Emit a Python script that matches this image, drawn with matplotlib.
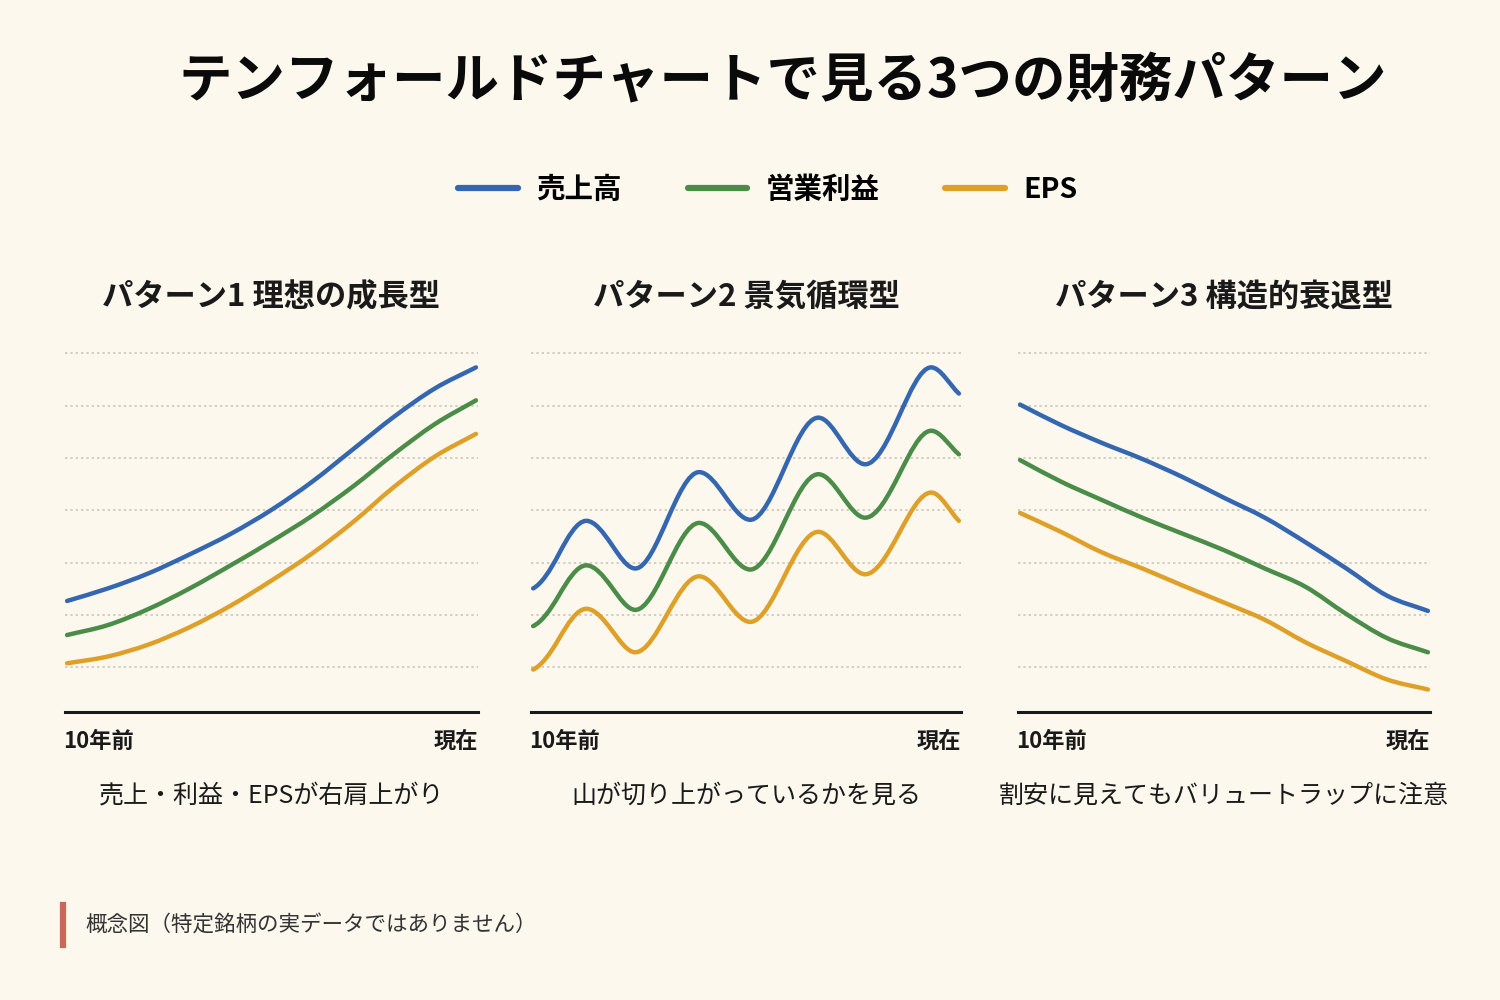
import matplotlib
matplotlib.use("Agg")
import matplotlib.pyplot as plt
from matplotlib.path import Path
from matplotlib.patches import PathPatch
from matplotlib.lines import Line2D

plt.rcParams['font.family'] = ['Noto Sans CJK JP', 'DejaVu Sans']

BG = '#FCF8EE'
BLUE = '#3567B1'
GREEN = '#4A8C48'
ORANGE = '#DEA028'

series_names = ['売上高', '営業利益', 'EPS']
panel_titles = ['パターン1 理想の成長型', 'パターン2 景気循環型', 'パターン3 構造的衰退型']
panel_notes = ['売上・利益・EPSが右肩上がり', '山が切り上がっているかを見る',
               '割安に見えてもバリュートラップに注意']
x_start_label = '10年前'
x_end_label = '現在'

# pattern 1 : steady growth (years 0..10)
p1_x = [0, 1, 2, 3, 4, 5, 6, 7, 8, 9, 10]
p1_sales = [2.27, 2.51, 2.80, 3.16, 3.55, 4.01, 4.55, 5.17, 5.79, 6.33, 6.73]
p1_profit = [1.62, 1.81, 2.12, 2.51, 2.95, 3.41, 3.90, 4.46, 5.08, 5.65, 6.10]
p1_eps = [1.08, 1.21, 1.44, 1.77, 2.18, 2.66, 3.18, 3.78, 4.45, 5.03, 5.46]

# pattern 2 : cyclical, rising peaks
p2_x = [0, 0.6, 1.25, 1.85, 2.4, 3.15, 3.9, 4.5, 5.1, 5.9, 6.7, 7.25, 7.8, 8.6, 9.35, 10]
p2_sales = [2.51, 3.16, 3.80, 3.34, 2.89, 3.82, 4.73, 4.28, 3.82, 4.80, 5.77, 5.32, 4.88, 5.81, 6.73, 6.23]
p2_profit = [1.79, 2.37, 2.95, 2.53, 2.10, 2.93, 3.76, 3.32, 2.87, 3.78, 4.69, 4.28, 3.86, 4.69, 5.52, 5.07]
p2_eps = [0.96, 1.54, 2.12, 1.71, 1.29, 2.02, 2.74, 2.31, 1.87, 2.74, 3.59, 3.18, 2.78, 3.57, 4.34, 3.80]

# pattern 3 : structural decline
p3_x = [0, 1, 2, 3, 4, 5, 6, 7, 8, 9, 10]
p3_sales = [6.02, 5.63, 5.29, 4.98, 4.63, 4.24, 3.86, 3.39, 2.89, 2.37, 2.08]
p3_profit = [4.96, 4.55, 4.20, 3.86, 3.55, 3.24, 2.89, 2.54, 2.02, 1.56, 1.29]
p3_eps = [3.95, 3.59, 3.20, 2.89, 2.56, 2.24, 1.91, 1.48, 1.12, 0.77, 0.58]

grid_levels = [1, 2, 3, 4, 5, 6, 7]


def slopes(xs, ys, wave):
    n = len(xs)
    m = []
    for i in range(n):
        if i == 0:
            s = (ys[1] - ys[0]) / (xs[1] - xs[0])
            m.append(s * 0.4 if wave else s)
        elif i == n - 1:
            m.append((ys[-1] - ys[-2]) / (xs[-1] - xs[-2]))
        else:
            d1 = ys[i] - ys[i - 1]
            d2 = ys[i + 1] - ys[i]
            if d1 * d2 <= 0:
                m.append(0.0)  # peak / trough -> flat
            else:
                s = (ys[i + 1] - ys[i - 1]) / (xs[i + 1] - xs[i - 1])
                m.append(s * 1.5 if wave else s)
    return m


def smooth_path(xs, ys, wave=False):
    # cubic hermite through the points, drawn as bezier segments
    m = slopes(xs, ys, wave)
    verts = [(xs[0], ys[0])]
    codes = [Path.MOVETO]
    for i in range(len(xs) - 1):
        h = xs[i + 1] - xs[i]
        verts += [(xs[i] + h / 3, ys[i] + m[i] * h / 3),
                  (xs[i + 1] - h / 3, ys[i + 1] - m[i + 1] * h / 3),
                  (xs[i + 1], ys[i + 1])]
        codes += [Path.CURVE4] * 3
    return Path(verts, codes)


fig = plt.figure(figsize=(15, 10), dpi=100)
fig.patch.set_facecolor(BG)

panels = [
    ([0.065, 0.288, 0.413, 0.364], p1_x, [p1_sales, p1_profit, p1_eps], False),
    ([0.531, 0.288, 0.430, 0.364], p2_x, [p2_sales, p2_profit, p2_eps], True),
    ([1.018, 0.288, 0.412, 0.364], p3_x, [p3_sales, p3_profit, p3_eps], False),
]

for k, (pos, xs, ys_list, wave) in enumerate(panels):
    ax = fig.add_axes([pos[0] / 1.5, pos[1], pos[2] / 1.5, pos[3]])
    ax.set_facecolor(BG)
    ax.set_xlim(-0.05, 10.05)
    ax.set_ylim(0.15, 7.1)
    for g in grid_levels:
        ax.axhline(g, color='#C9C0B4', lw=1.1, ls=(0, (1.5, 2)), zorder=1)
    for ys, c in zip(ys_list, [BLUE, GREEN, ORANGE]):
        patch = PathPatch(smooth_path(xs, ys, wave), fill=False, edgecolor=c, lw=3.2,
                          capstyle='round', joinstyle='round', zorder=3)
        ax.add_patch(patch)
    for s in ['top', 'right', 'left']:
        ax.spines[s].set_visible(False)
    ax.spines['bottom'].set_color('#1A1A1A')
    ax.spines['bottom'].set_linewidth(2.2)
    ax.set_xticks([])
    ax.set_yticks([])
    ax.text(-0.005, -0.05, x_start_label, transform=ax.transAxes, ha='left', va='top',
            fontsize=16, fontweight='bold', color='#1A1A1A')
    ax.text(1, -0.05, x_end_label, transform=ax.transAxes, ha='right', va='top',
            fontsize=16, fontweight='bold', color='#1A1A1A')
    ax.text(0.5, -0.23, panel_notes[k], transform=ax.transAxes, ha='center', va='center',
            fontsize=18, color='#1A1A1A')
    ax.text(0.5, 1.14, panel_titles[k], transform=ax.transAxes, ha='center', va='center',
            fontsize=22.5, fontweight='bold', color='#1A1A1A')

fig.text(0.522, 0.918, 'テンフォールドチャートで見る3つの財務パターン', ha='center', va='center',
         fontsize=38.5, fontweight='bold', color='#0A0A0A')

handles = [Line2D([], [], color=c, lw=4.5, solid_capstyle='round') for c in [BLUE, GREEN, ORANGE]]
fig.legend(handles, series_names, loc='center', bbox_to_anchor=(0.512, 0.81), ncol=3,
           frameon=False, prop={'size': 20.5, 'weight': 'bold'},
           handlelength=2.1, handletextpad=0.65, columnspacing=2.3)

fig.add_artist(Line2D([0.042, 0.042], [0.055, 0.095], color='#C8675A', lw=4.5))
fig.text(0.057, 0.075, '概念図（特定銘柄の実データではありません）', ha='left', va='center',
         fontsize=15.5, color='#333333')

fig.savefig('out.png', dpi=100, facecolor=BG)
